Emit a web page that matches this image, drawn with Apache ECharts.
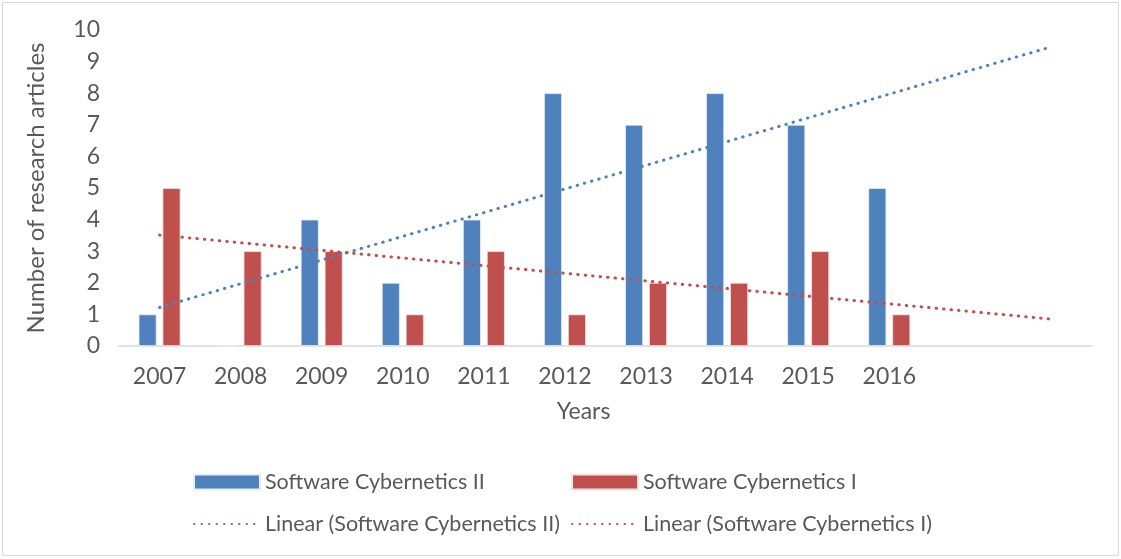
<!DOCTYPE html>
<html><head><meta charset="utf-8">
<script src="https://cdn.jsdelivr.net/npm/echarts@6/dist/echarts.min.js"></script>
<style>html,body{margin:0;padding:0;background:#fff}#c{width:1121px;height:559px}</style>
</head><body><div id="c"></div>
<script>
var years = ['2007','2008','2009','2010','2011','2012','2013','2014','2015','2016','2017','2018'];
var seriesII = [1,0,4,2,4,8,7,8,7,5];
var seriesI = [5,3,3,1,3,1,2,2,3,1];
var trendII = [['2007',1.22],['2018',9.47]];
var trendI = [['2007',3.51],['2018',0.85]];
var yTicks = {min:0, max:10, interval:1};

var FONT = 'Lato';
var TXT = '#595959';
var BLUE = '#4F81BD', RED = '#C0504D';
var chart = echarts.init(document.getElementById('c'));
function leg(name, left, top, isLine){
  var d = {name:name};
  if (isLine) { d.itemStyle = {opacity:0}; } else { d.icon = 'rect'; }
  return {data:[d], left:left, top:top, itemWidth:66, itemHeight:15, itemGap:8, selectedMode:false,
    textStyle:{fontFamily:FONT, fontSize:21.5, color:TXT}};
}
chart.setOption({
  animation:false,
  textStyle:{fontFamily:FONT},
  graphic:[{type:'rect', shape:{x:2.5,y:2.5,width:1116,height:553}, style:{fill:'none', stroke:'#D9D9D9', lineWidth:1}, silent:true}],
  grid:{left:119, right:29, top:30, bottom:213},
  legend:[leg('Software Cybernetics II',188,466,false), leg('Software Cybernetics I',566,466,false),
          leg('Linear (Software Cybernetics II)',188,508,true), leg('Linear (Software Cybernetics I)',566,508,true)],
  xAxis:{type:'category', data:years, name:'Years', nameLocation:'middle', nameGap:54,
    nameTextStyle:{fontFamily:FONT, fontSize:23, color:TXT, padding:[0,44,0,0]},
    axisLine:{lineStyle:{color:'#D9D9D9', width:1.5}}, axisTick:{show:false},
    axisLabel:{margin:19, fontFamily:FONT, fontSize:23, color:TXT,
      formatter:function(v){return (v==='2017'||v==='2018')?'':v;}}},
  yAxis:{type:'value', min:yTicks.min, max:yTicks.max, interval:yTicks.interval,
    name:'Number of research articles', nameLocation:'middle', nameGap:71,
    nameTextStyle:{fontFamily:FONT, fontSize:24, color:TXT},
    axisLine:{show:false}, axisTick:{show:false}, splitLine:{show:false},
    axisLabel:{margin:19, fontFamily:FONT, fontSize:23, color:TXT}},
  series:[
    {name:'Software Cybernetics II', type:'bar', data:seriesII, barWidth:18, barGap:'33%',
      itemStyle:{color:BLUE, borderColor:'#E8EEF6', borderWidth:0.8}},
    {name:'Software Cybernetics I', type:'bar', data:seriesI, barWidth:18, barGap:'33%',
      itemStyle:{color:RED, borderColor:'#F4E4E4', borderWidth:0.8}},
    {name:'Linear (Software Cybernetics II)', type:'line', data:trendII, symbol:'none', z:5,
      lineStyle:{color:BLUE, width:3, type:[0.5,7], cap:'round'}, itemStyle:{color:BLUE}},
    {name:'Linear (Software Cybernetics I)', type:'line', data:trendI, symbol:'none', z:5,
      lineStyle:{color:RED, width:3, type:[0.5,7], cap:'round'}, itemStyle:{color:RED}}
  ]
});
</script></body></html>
